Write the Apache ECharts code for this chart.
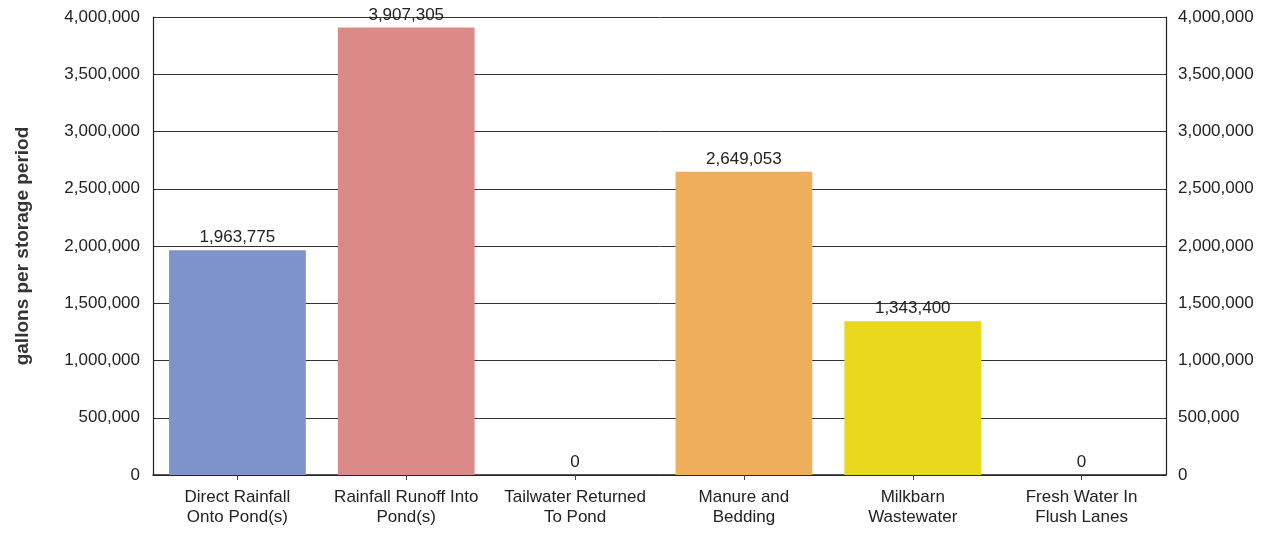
<!DOCTYPE html>
<html>
<head>
<meta charset="utf-8">
<script src="https://cdn.jsdelivr.net/npm/echarts@6/dist/echarts.min.js"></script>
<style>
html,body{margin:0;padding:0;background:#fff;}
#c{width:1268px;height:533px;}
</style>
</head>
<body>
<div id="c"></div>
<script>
const categories = ["Direct Rainfall\nOnto Pond(s)", "Rainfall Runoff Into\nPond(s)", "Tailwater Returned\nTo Pond", "Manure and\nBedding", "Milkbarn\nWastewater", "Fresh Water In\nFlush Lanes"];
const values = [1963775, 3907305, 0, 2649053, 1343400, 0];
const barColors = ["#7d93c9", "#dc8a87", "#dc8a87", "#eeae5c", "#ead81e", "#ead81e"];
const yTicks = { min: 0, max: 4000000, interval: 500000 };
const yName = "gallons per storage period";

const fmt = v => Number(v).toLocaleString('en-US');
const chart = echarts.init(document.getElementById('c'), null, { renderer: 'canvas' });
const font = 'Liberation Sans, Arial, sans-serif';
chart.setOption({
  animation: false,
  backgroundColor: '#fff',
  grid: { left: 153, right: 102, top: 17, bottom: 58, containLabel: false },
  xAxis: {
    type: 'category',
    data: categories,
    axisLine: { lineStyle: { color: '#222', width: 1.5 } },
    axisTick: { show: true, alignWithLabel: true, length: 5, lineStyle: { color: '#444' } },
    axisLabel: { color: '#222', fontFamily: font, fontSize: 17, lineHeight: 20, margin: 12, interval: 0 }
  },
  yAxis: [
    {
      type: 'value',
      min: yTicks.min, max: yTicks.max, interval: yTicks.interval,
      name: yName,
      nameLocation: 'middle',
      nameGap: 121,
      nameRotate: 90,
      nameTextStyle: { color: '#333', fontFamily: font, fontSize: 19, fontWeight: 'bold' },
      axisLine: { show: true, lineStyle: { color: '#222', width: 1.2 } },
      axisTick: { show: false },
      splitLine: { show: true, lineStyle: { color: '#333', width: 1 } },
      axisLabel: { color: '#222', fontFamily: font, fontSize: 17, margin: 13, formatter: fmt }
    },
    {
      type: 'value',
      min: yTicks.min, max: yTicks.max, interval: yTicks.interval,
      position: 'right',
      axisLine: { show: true, lineStyle: { color: '#222', width: 1.2 } },
      axisTick: { show: false },
      splitLine: { show: false },
      axisLabel: { color: '#222', fontFamily: font, fontSize: 17, margin: 12, formatter: fmt }
    }
  ],
  series: [{
    type: 'bar',
    yAxisIndex: 0,
    barWidth: '81%',
    data: values.map((v, i) => ({ value: v, itemStyle: { color: barColors[i] } })),
    label: {
      show: true,
      position: 'top',
      distance: 4,
      color: '#222',
      fontFamily: font,
      fontSize: 17,
      formatter: p => fmt(p.value)
    }
  }]
});
</script>
</body>
</html>
